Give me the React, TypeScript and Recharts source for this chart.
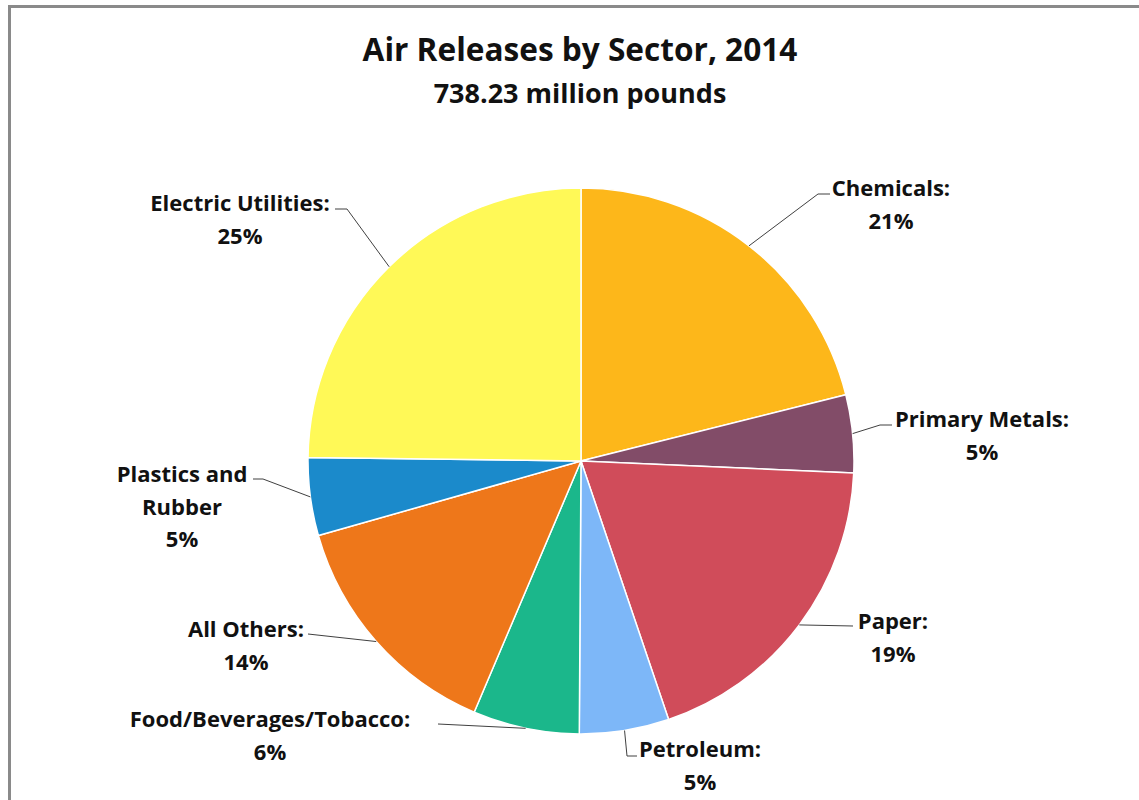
import React from "react";
import { PieChart, Pie, Cell } from "recharts";

const sectors = [
  "Chemicals",
  "Primary Metals",
  "Paper",
  "Petroleum",
  "Food/Beverages/Tobacco",
  "All Others",
  "Plastics and Rubber",
  "Electric Utilities",
];
const shares = [21.1, 4.6, 19.1, 5.3, 6.3, 14.2, 4.6, 24.8];
const labelNames = [
  ["Chemicals:"],
  ["Primary Metals:"],
  ["Paper:"],
  ["Petroleum:"],
  ["Food/Beverages/Tobacco:"],
  ["All Others:"],
  ["Plastics and", "Rubber"],
  ["Electric Utilities:"],
];
const colors = ["#FDB71A", "#824C68", "#D04C5A", "#7DB7F8", "#1BB78B", "#EE771A", "#1B8ACB", "#FFF957"];

const title = "Air Releases by Sector, 2014";
const subtitle = "738.23 million pounds";

const data = sectors.map((s, i) => ({ name: s, value: shares[i] }));

// label layout: elbow, end of leader, text centre (offsets from pie centre)
const layout = [
  { e: [237, -267], f: [249, -267], t: [310, -274] },
  { e: [299, -36], f: [311, -36], t: [401, -43] },
  { e: [272, 165], f: [272, 165], t: [312, 159] },
  { e: [46, 295], f: [56, 295], t: [119, 287] },
  { e: [-143, 263], f: [-143, 263], t: [-311, 257] },
  { e: [-273, 173], f: [-273, 173], t: [-335, 167] },
  { e: [-318, 18], f: [-328, 18], t: [-399, 12] },
  { e: [-234, -252], f: [-246, -252], t: [-341, -259] },
];

const RAD = Math.PI / 180;
const FONT = "'Open Sans', 'Noto Sans', sans-serif";

const renderLabel = (props: any) => {
  const { cx, cy, midAngle, outerRadius, index, percent } = props;
  const sx = cx + outerRadius * Math.cos(-midAngle * RAD);
  const sy = cy + outerRadius * Math.sin(-midAngle * RAD);
  const L = layout[index];
  const lines = [...labelNames[index], `${Math.round(percent * 100)}%`];
  const tx = cx + L.t[0];
  const ty = cy + L.t[1];
  return (
    <g key={`lbl-${index}`}>
      <polyline
        points={`${sx},${sy} ${cx + L.e[0]},${cy + L.e[1]} ${cx + L.f[0]},${cy + L.f[1]}`}
        fill="none"
        stroke="#404040"
        strokeWidth={1}
      />
      <text
        x={tx}
        y={ty}
        textAnchor="middle"
        fontFamily={FONT}
        fontWeight={700}
        fontSize={22}
        fill="#111"
      >
        {lines.map((ln, k) => (
          <tspan key={k} x={tx} y={ty + k * 32.5} dominantBaseline="central">
            {ln}
          </tspan>
        ))}
      </text>
    </g>
  );
};

export default function App() {
  return (
    <div
      style={{
        position: "fixed",
        left: 0,
        top: 0,
        width: 1139,
        height: 800,
        overflow: "hidden",
        background: "#fff",
        fontFamily: FONT,
      }}
    >
      <div
        style={{
          position: "absolute",
          left: 8,
          top: 5,
          width: 1300,
          height: 900,
          borderLeft: "3px solid #8a8a8a",
          borderTop: "3px solid #8a8a8a",
        }}
      />
      <div style={{ position: "absolute", left: 0, top: 0 }}>
        <PieChart width={1139} height={800} margin={{ top: 0, right: 0, bottom: 0, left: 0 }}>
          <text
            x={580}
            y={48}
            textAnchor="middle"
            dominantBaseline="central"
            fontFamily={FONT}
            fontWeight={700}
            fontSize={31.6}
            fill="#111"
          >
            {title}
          </text>
          <text
            x={580}
            y={92}
            textAnchor="middle"
            dominantBaseline="central"
            fontFamily={FONT}
            fontWeight={700}
            fontSize={27}
            fill="#111"
          >
            {subtitle}
          </text>
          <Pie
            data={data}
            dataKey="value"
            nameKey="name"
            cx={581}
            cy={461}
            outerRadius={273}
            startAngle={90}
            endAngle={-270}
            stroke="#ffffff"
            strokeWidth={1.5}
            label={renderLabel}
            labelLine={false}
            isAnimationActive={false}
          >
            {data.map((d, i) => (
              <Cell key={d.name} fill={colors[i]} />
            ))}
          </Pie>
        </PieChart>
      </div>
    </div>
  );
}
